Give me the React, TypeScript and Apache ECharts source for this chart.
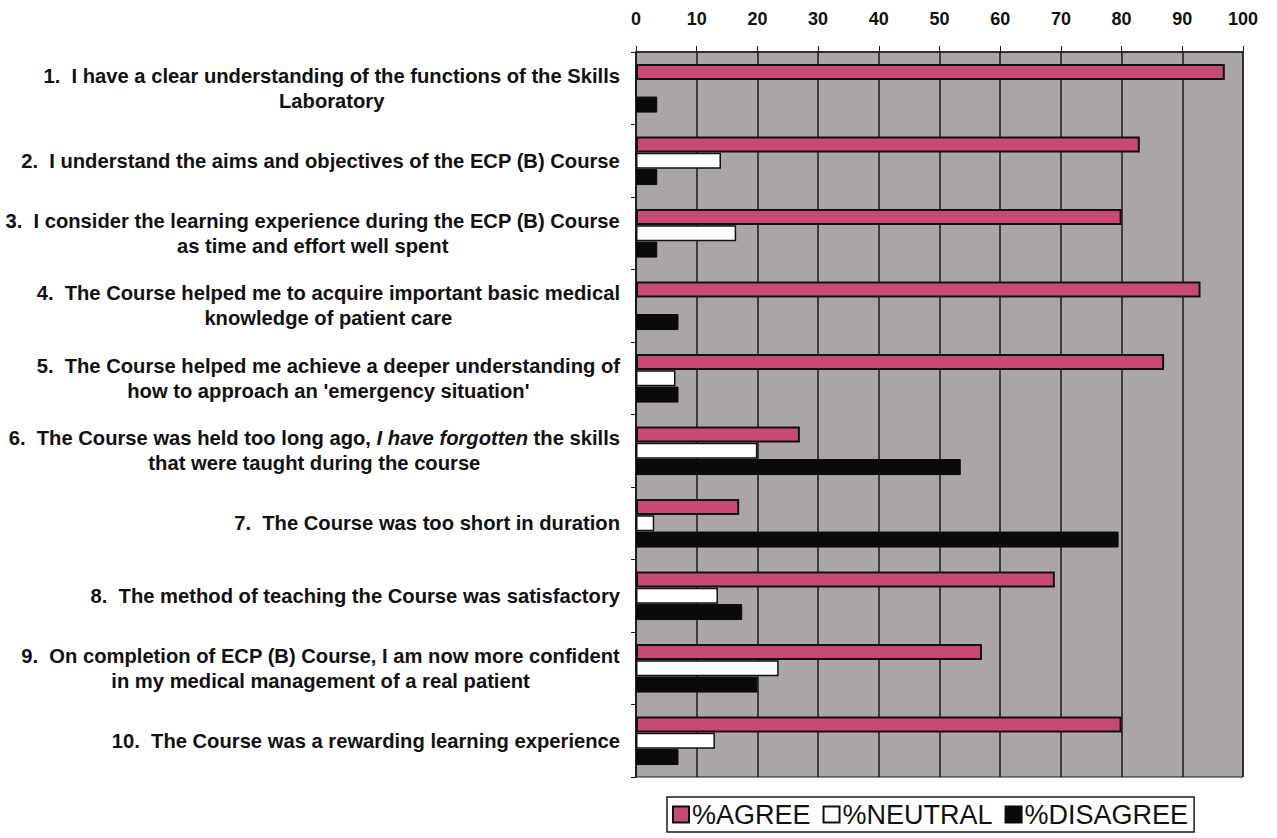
import React, { useEffect, useRef } from "react";
import * as echarts from "echarts";

const categories = [
  "1.  I have a clear understanding of the functions of the Skills\nLaboratory",
  "2.  I understand the aims and objectives of the ECP (B) Course",
  "3.  I consider the learning experience during the ECP (B) Course\nas time and effort well spent",
  "4.  The Course helped me to acquire important basic medical\nknowledge of patient care",
  "5.  The Course helped me achieve a deeper understanding of\nhow to approach an 'emergency situation'",
  "6.  The Course was held too long ago, I have forgotten the skills\nthat were taught during the course",
  "7.  The Course was too short in duration",
  "8.  The method of teaching the Course was satisfactory",
  "9.  On completion of ECP (B) Course, I am now more confident\nin my medical management of a real patient",
  "10.  The Course was a rewarding learning experience",
];

const agree = [97, 83, 80, 93, 87, 27, 17, 69, 57, 80];
const neutral = [0, 14, 16.5, 0, 6.5, 20, 3, 13.5, 23.5, 13];
const disagree = [3.5, 3.5, 3.5, 7, 7, 53.5, 79.5, 17.5, 20, 7];

const xTicks = { min: 0, max: 100, interval: 10 };

const FONT = "'Liberation Sans', Arial, Helvetica, sans-serif";

export default function App() {
  const ref = useRef<HTMLDivElement>(null);
  useEffect(() => {
    if (!ref.current) return;
    const chart = echarts.init(ref.current, null, { renderer: "svg" });
    const labelStyle = {
      align: "center",
      fontSize: 20.2,
      fontWeight: "bold",
      lineHeight: 25,
      color: "#111",
      fontFamily: FONT,
    };
    chart.setOption({
      animation: false,
      backgroundColor: "#ffffff",
      grid: {
        left: 636,
        right: 34,
        top: 52,
        bottom: 61,
        show: true,
        backgroundColor: "#aaa6a6",
        borderColor: "#1a1a1a",
        borderWidth: 1,
        containLabel: false,
        outerBoundsMode: "none",
      },
      xAxis: {
        type: "value",
        position: "top",
        min: xTicks.min,
        max: xTicks.max,
        interval: xTicks.interval,
        axisLine: { show: true, lineStyle: { color: "#1a1a1a", width: 1.5 } },
        axisTick: { show: true, length: 6, lineStyle: { color: "#1a1a1a" } },
        splitLine: { show: true, lineStyle: { color: "#1a1a1a", width: 1.5 } },
        axisLabel: {
          margin: 24,
          fontSize: 18,
          fontWeight: "bold",
          color: "#111",
          fontFamily: FONT,
        },
      },
      yAxis: {
        type: "category",
        inverse: true,
        data: categories,
        axisLine: { show: true, lineStyle: { color: "#1a1a1a", width: 1.5 } },
        axisTick: { show: true, length: 5, lineStyle: { color: "#1a1a1a" } },
        axisLabel: {
          interval: 0,
          align: "right",
          margin: 16,
          formatter: (v: string) =>
            v
              .split("\n")
              .map((line) => {
                const it = "I have forgotten";
                if (line.includes(it)) {
                  const [a, b] = line.split(it);
                  return `{c|${a}}{i|${it}}{c|${b}}`;
                }
                return `{c|${line}}`;
              })
              .join("\n"),
          rich: {
            c: labelStyle,
            i: { ...labelStyle, fontStyle: "italic" },
          },
        },
      },
      legend: {
        left: 667,
        top: 797,
        orient: "horizontal",
        borderColor: "#1a1a1a",
        borderWidth: 1.5,
        padding: [4, 6, 4, 5],
        itemWidth: 16,
        itemHeight: 16,
        itemGap: 12,
        icon: "rect",
        textStyle: {
          fontSize: 27,
          color: "#111",
          fontFamily: FONT,
          padding: [0, 0, 0, -2],
        },
        data: ["%AGREE", "%NEUTRAL", "%DISAGREE"],
      },
      series: [
        {
          name: "%AGREE",
          type: "bar",
          data: agree,
          barWidth: 16,
          barGap: "2%",
          itemStyle: { color: "#c84a74", borderColor: "#111", borderWidth: 2 },
        },
        {
          name: "%NEUTRAL",
          type: "bar",
          data: neutral,
          barWidth: 16,
          barGap: "2%",
          itemStyle: { color: "#ffffff", borderColor: "#111", borderWidth: 1.5 },
        },
        {
          name: "%DISAGREE",
          type: "bar",
          data: disagree,
          barWidth: 16,
          barGap: "2%",
          itemStyle: { color: "#0a0a0a", borderColor: "#0a0a0a", borderWidth: 1 },
        },
      ],
    });
    return () => chart.dispose();
  }, []);
  return (
    <div
      ref={ref}
      style={{ position: "fixed", left: 0, top: 0, width: 1277, height: 838 }}
    />
  );
}
